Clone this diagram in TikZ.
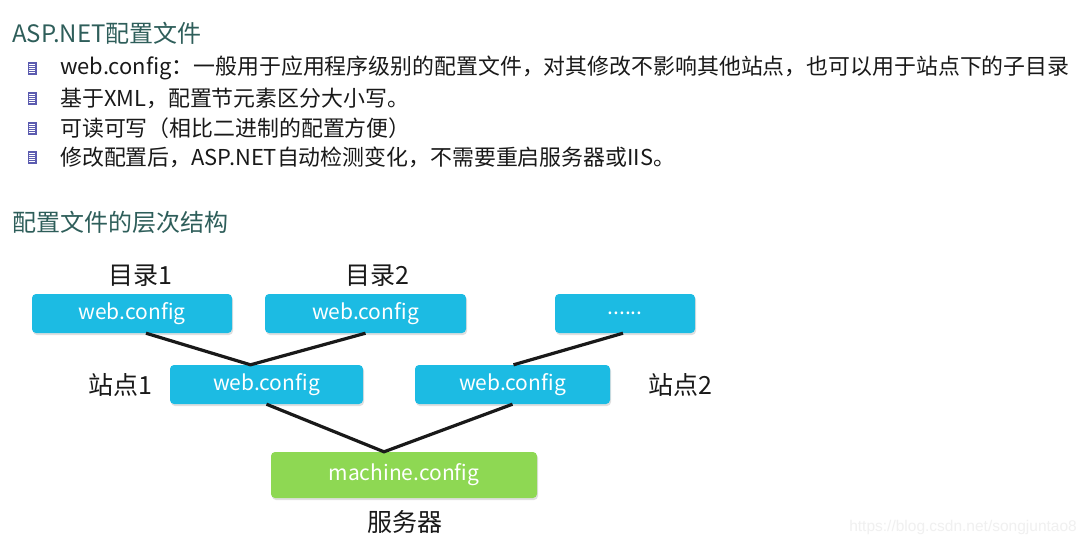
\documentclass[tikz,border=0pt]{standalone}
\usepackage{fontspec}
\setmainfont{Noto Sans CJK SC}
\newfontfamily\wmfont{Liberation Sans}
\usetikzlibrary{shadows}
\definecolor{boxblue}{HTML}{1CBBE3}
\definecolor{boxgreen}{HTML}{8ED853}
\definecolor{headcol}{HTML}{2E5E5A}
\definecolor{bulletcol}{HTML}{5C5CB0}
\definecolor{wmcol}{HTML}{F0F0F0}
\tikzset{
  cfgbox/.style={rounded corners=4pt, draw=none, minimum height=39pt, inner sep=0pt,
    text=white, font=\fontsize{21}{24}\selectfont,
    drop shadow={shadow xshift=1pt, shadow yshift=-2pt, opacity=0.25}},
  bluebox/.style={cfgbox, fill=boxblue},
  greenbox/.style={cfgbox, fill=boxgreen},
  head/.style={anchor=west, text=headcol, font=\fontsize{24}{28}\selectfont, inner sep=0pt},
  btext/.style={anchor=west, text=black!90, font=\fontsize{21.9}{26}\selectfont, inner sep=0pt},
  lbl/.style={text=black!90, font=\fontsize{25}{28}\selectfont, inner sep=0pt},
  conn/.style={line width=3.2pt, black!90},
  bul/.style={fill=bulletcol, minimum width=9pt, minimum height=13pt, inner sep=0pt}
}
\begin{document}
\begin{tikzpicture}[x=1pt,y=-1pt]
\useasboundingbox[fill=white] (0,0) rectangle (1085,547);
% headings
\node[head] (h1) at (12,33) {ASP.NET配置文件};
\node[head] (h2) at (12,222) {配置文件的层次结构};
% bullets
\foreach \i/\y in {1/68,2/98,3/128,4/157}{
  \node[bul] (b\i) at (32,\y) {};
  \foreach \k in {-4.5,-2.5,-0.5,1.5,3.5}{
    \draw[white, line width=0.6pt] ([xshift=-3pt,yshift=\k pt]b\i.center) -- ([xshift=3pt,yshift=\k pt]b\i.center);
  }
}
\node[btext] (t1) at (60,68) {web.config：一般用于应用程序级别的配置文件，对其修改不影响其他站点，也可以用于站点下的子目录};
\node[btext] (t2) at (60,98) {基于XML，配置节元素区分大小写。};
\node[btext] (t3) at (60,128) {可读可写（相比二进制的配置方便）};
\node[btext] (t4) at (60,157) {修改配置后，ASP.NET自动检测变化，不需要重启服务器或IIS。};
% boxes
\node[bluebox, minimum width=200pt] (d1) at (132,313.5) {web.config};
\node[bluebox, minimum width=201pt] (d2) at (365.5,313.5) {web.config};
\node[bluebox, minimum width=140pt] (d3) at (625,313.5) {......};
\node[bluebox, minimum width=193pt] (s1) at (266.5,384.5) {web.config};
\node[bluebox, minimum width=195pt] (s2) at (512.5,384.5) {web.config};
\node[greenbox, minimum width=266pt, minimum height=46pt] (m) at (404,475) {machine.config};
% labels
\node[lbl] (l1) at (140,276) {目录1};
\node[lbl] (l2) at (377,276) {目录2};
\node[lbl] (l3) at (120,385) {站点1};
\node[lbl] (l4) at (680,385) {站点2};
\node[lbl] (l5) at (405,522) {服务器};
% connectors
\coordinate (j1) at ([xshift=-16pt]s1.north);
\coordinate (j2) at ([xshift=1pt]s2.north);
\coordinate (j3) at ([xshift=-20pt]m.north);
\draw[conn] ([xshift=14pt]d1.south) -- (j1) -- (d2.south);
\draw[conn] ([xshift=-2pt]d3.south) -- (j2);
\draw[conn] (s1.south) -- (j3) -- (s2.south);
% watermark
\node[anchor=east, text=wmcol, font=\fontsize{15.5}{18}\selectfont\wmfont, inner sep=0pt] (wm) at (1077,527) {https://blog.csdn.net/songjuntao8};
\end{tikzpicture}
\end{document}
